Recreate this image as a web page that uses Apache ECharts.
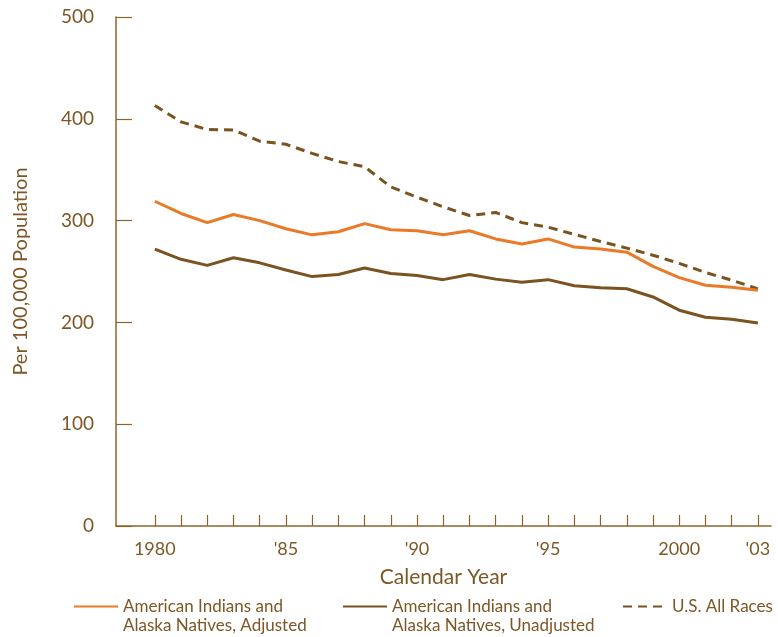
<!DOCTYPE html>
<html>
<head>
<meta charset="utf-8">
<script src="https://cdn.jsdelivr.net/npm/echarts@6/dist/echarts.min.js"></script>
<style>html,body{margin:0;padding:0;background:#fff}#c{width:778px;height:637px}</style>
</head>
<body>
<div id="c"></div>
<script>
var years = [1980,1981,1982,1983,1984,1985,1986,1987,1988,1989,1990,1991,1992,1993,1994,1995,1996,1997,1998,1999,2000,2001,2002,2003];
var adjusted = [319,307,298,306,300,292,286,289,297,291,290,286,290,282,277,282,274,272,269,255,244,236.5,234.5,231.5];
var unadjusted = [272,262,256,263.5,258.5,251.5,245,247,253.5,248,246,242,247,242.5,239.5,242,236,234,233,225,212,205,203,199.5];
var usAll = [413,397,389.5,389,378,375,366,358,353,333,323,313.5,305,308,298,293.5,286.5,279.5,273,266,258,249,241.5,233];
var labelYears = [1980,1985,1990,1995,2000,2003];
var tickLabels = ['1980',"'85","'90","'95",'2000',"'03"];
var seriesNames = ['American Indians and\nAlaska Natives, Adjusted','American Indians and\nAlaska Natives, Unadjusted','U.S. All Races'];

var txt = '#7d5726';
var axisCol = '#8b6428';
var orange = '#ea7a28';
var brown = '#7a5320';
var font = 'Lato';

function pairs(vals){ return years.map(function(y,i){ return [y, vals[i]]; }); }

var chart = echarts.init(document.getElementById('c'), null, {renderer:'canvas'});
function leg(name, left){
  var multi = name.indexOf('\n') >= 0;
  return {
    data:[name], left:left, top: multi ? 578 : 597, orient:'horizontal', padding:0,
    itemWidth:44, itemHeight:14,
    itemStyle:{opacity:0},
    formatter: multi ? function(n){ return '\n' + n; } : '{name}',
    textStyle:{color:txt, fontFamily:font, fontSize:17, lineHeight:19},
    selectedMode:false
  };
}
chart.setOption({
  animation:false,
  textStyle:{fontFamily:font},
  grid:{left:116, right:7, top:17, bottom:111, containLabel:false},
  legend:[leg(seriesNames[0],73), leg(seriesNames[1],342), leg(seriesNames[2],622)],
  xAxis:{
    type:'value', min:1978.52, max:2003.5,
    name:'Calendar Year', nameLocation:'middle', nameGap:41,
    nameTextStyle:{color:txt, fontSize:21, fontFamily:font},
    axisLine:{show:true, lineStyle:{color:axisCol, width:1.5}},
    axisTick:{show:true, inside:true, length:11, customValues:years, lineStyle:{color:axisCol, width:1.2}},
    axisLabel:{show:true, customValues:labelYears, color:txt, fontSize:18, margin:14, fontFamily:font,
      formatter:function(v){ var i = labelYears.indexOf(Math.round(v)); return i>=0 ? tickLabels[i] : ''; }},
    splitLine:{show:false}
  },
  yAxis:{
    type:'value', min:0, max:500, interval:100,
    name:'Per 100,000 Population', nameLocation:'middle', nameGap:85, nameRotate:90,
    nameTextStyle:{color:txt, fontSize:20, fontFamily:font},
    axisLine:{show:true, lineStyle:{color:axisCol, width:1.5}},
    axisTick:{show:true, inside:true, length:16, lineStyle:{color:axisCol, width:1.2}},
    axisLabel:{color:txt, fontSize:19, margin:22, fontFamily:font},
    splitLine:{show:false}
  },
  series:[
    {name:seriesNames[0], type:'line', data:pairs(adjusted), symbol:'none', lineStyle:{color:orange, width:3}, itemStyle:{color:orange}, z:3},
    {name:seriesNames[1], type:'line', data:pairs(unadjusted), symbol:'none', lineStyle:{color:brown, width:3}, itemStyle:{color:brown}, z:2},
    {name:seriesNames[2], type:'line', data:pairs(usAll), symbol:'none', lineStyle:{color:brown, width:3, type:[9,6]}, itemStyle:{color:brown}, z:1}
  ]
});
</script>
</body>
</html>
